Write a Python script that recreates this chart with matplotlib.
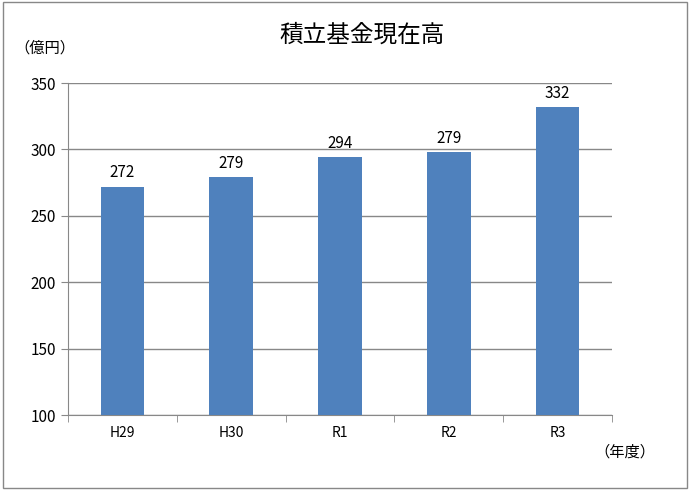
import matplotlib
matplotlib.use("Agg")
import matplotlib.pyplot as plt
from matplotlib.patches import Rectangle
import numpy as np

plt.rcParams['font.family'] = ['Noto Sans CJK JP', 'DejaVu Sans']

categories = ["H29", "H30", "R1", "R2", "R3"]
values = [272, 279, 294, 298, 332]
labels = ["272", "279", "294", "279", "332"]
yticks = [100, 150, 200, 250, 300, 350]

fig = plt.figure(figsize=(6.9, 4.9), dpi=100)
fig.patches.append(Rectangle((0.004, 0.004), 0.992, 0.992, transform=fig.transFigure,
                             fill=False, edgecolor="#888888", linewidth=1))
ax = fig.add_axes([68/690, 1-415/490, (612-68)/690, (415-83)/490])
x = np.arange(len(categories))
ax.bar(x, [v - 100 for v in values], bottom=100, width=0.4, color="#4F81BD", zorder=3)
for xi, v, l in zip(x, values, labels):
    ax.text(xi, v + 4, l, ha="center", va="bottom", fontsize=11)
ax.set_xlim(-0.5, len(categories) - 0.5)
ax.set_ylim(100, 350)
ax.set_yticks(yticks)
ax.set_xticks(x)
ax.set_xticklabels(categories, fontsize=10)
ax.set_xticks(np.arange(-0.5, len(categories), 1), minor=True)
ax.tick_params(axis="x", which="major", length=0, pad=8)
ax.tick_params(axis="x", which="minor", length=5, color="#888888")
ax.tick_params(axis="y", labelsize=11, length=5, color="#888888")
ax.grid(axis="y", color="#888888", linewidth=1, zorder=0)
for s in ["top", "right"]:
    ax.spines[s].set_visible(False)
for s in ["left", "bottom"]:
    ax.spines[s].set_color("#888888")
fig.text(362/690, 1-35/490, "積立基金現在高", ha="center", va="center", fontsize=17)
fig.text(45/690, 1-48/490, "（億円）", ha="center", va="center", fontsize=11)
fig.text(625/690, 1-452/490, "（年度）", ha="center", va="center", fontsize=11)
fig.savefig("out.png", dpi=100)
